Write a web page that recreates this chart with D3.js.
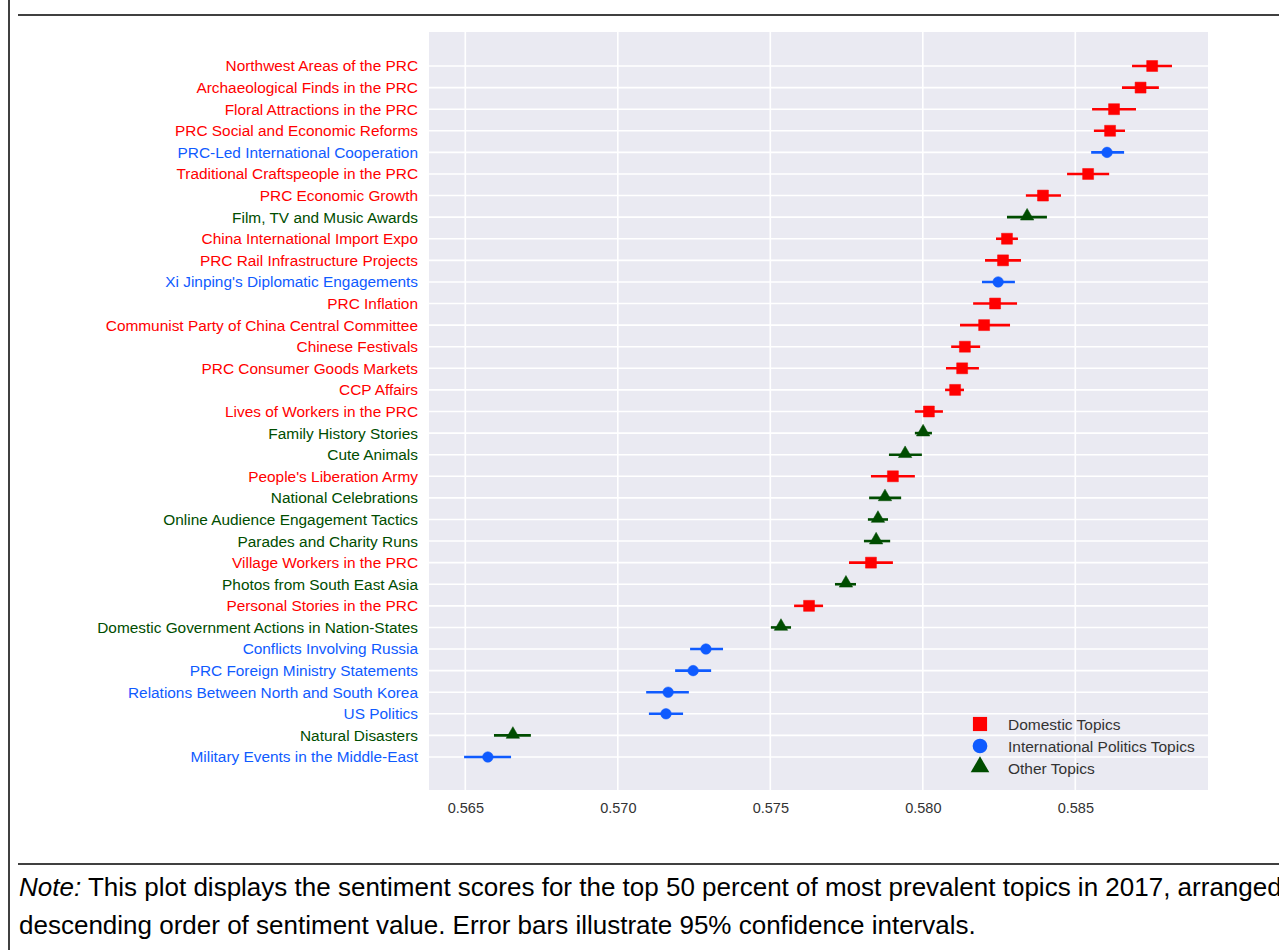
<!DOCTYPE html>
<html>
<head>
<meta charset="utf-8">
<script src="https://cdn.jsdelivr.net/npm/d3@7"></script>
<style>
  body { margin: 0; background: #fff; }
  svg { display: block; font-family: "Liberation Sans", Arial, sans-serif; }
</style>
</head>
<body>
<script>
// topics, top to bottom
const topics = [
  "Northwest Areas of the PRC", "Archaeological Finds in the PRC", "Floral Attractions in the PRC",
  "PRC Social and Economic Reforms", "PRC-Led International Cooperation", "Traditional Craftspeople in the PRC",
  "PRC Economic Growth", "Film, TV and Music Awards", "China International Import Expo",
  "PRC Rail Infrastructure Projects", "Xi Jinping's Diplomatic Engagements", "PRC Inflation",
  "Communist Party of China Central Committee", "Chinese Festivals", "PRC Consumer Goods Markets",
  "CCP Affairs", "Lives of Workers in the PRC", "Family History Stories", "Cute Animals",
  "People's Liberation Army", "National Celebrations", "Online Audience Engagement Tactics",
  "Parades and Charity Runs", "Village Workers in the PRC", "Photos from South East Asia",
  "Personal Stories in the PRC", "Domestic Government Actions in Nation-States",
  "Conflicts Involving Russia", "PRC Foreign Ministry Statements",
  "Relations Between North and South Korea", "US Politics", "Natural Disasters",
  "Military Events in the Middle-East"
];
// D = domestic, I = international politics, O = other
const groups = ["D","D","D","D","I","D","D","O","D","D","I","D","D","D","D","D","D","O","O",
  "D","O","O","O","D","O","D","O","I","I","I","I","O","I"];
const sentiment = [0.58752, 0.58714, 0.58627, 0.58614, 0.58604, 0.58542, 0.58394, 0.58342, 0.58276,
  0.58263, 0.58247, 0.58237, 0.58201, 0.58138, 0.58129, 0.58106, 0.58020, 0.58001, 0.57942,
  0.57902, 0.57876, 0.57853, 0.57847, 0.57830, 0.57748, 0.57627, 0.57535, 0.57289, 0.57247,
  0.57165, 0.57158, 0.56656, 0.56574];
const ciLow = [0.58686, 0.58653, 0.58555, 0.58561, 0.58552, 0.58473, 0.58338, 0.58276, 0.58240,
  0.58204, 0.58194, 0.58165, 0.58122, 0.58093, 0.58076, 0.58073, 0.57974, 0.57974, 0.57889,
  0.57830, 0.57824, 0.57820, 0.57807, 0.57758, 0.57712, 0.57578, 0.57502, 0.57237, 0.57188,
  0.57093, 0.57102, 0.56594, 0.56496];
const ciHigh = [0.58817, 0.58774, 0.58699, 0.58663, 0.58660, 0.58611, 0.58453, 0.58407, 0.58312,
  0.58322, 0.58302, 0.58309, 0.58286, 0.58188, 0.58184, 0.58135, 0.58066, 0.58030, 0.57997,
  0.57974, 0.57929, 0.57886, 0.57893, 0.57902, 0.57781, 0.57673, 0.57568, 0.57345, 0.57306,
  0.57233, 0.57214, 0.56715, 0.56650];
const xTicks = [0.565, 0.570, 0.575, 0.580, 0.585];
const legendLabels = ["Domestic Topics", "International Politics Topics", "Other Topics"];
const groupKeys = ["D", "I", "O"];

const colors = { D: "#ff0000", I: "#0f5bff", O: "#004d00" };
const symbols = { D: d3.symbolSquare, I: d3.symbolCircle, O: d3.symbolTriangle };

const width = 1279, height = 950;
const plot = { left: 429, right: 1208, top: 32, bottom: 790 };

const svg = d3.select("body").append("svg")
  .attr("width", width)
  .attr("height", height);

// frame lines
svg.append("line").attr("x1", 9).attr("x2", 9).attr("y1", 0).attr("y2", height)
  .attr("stroke", "#000").attr("stroke-width", 1.5);
svg.append("line").attr("x1", 18).attr("x2", width).attr("y1", 15).attr("y2", 15)
  .attr("stroke", "#000").attr("stroke-width", 1.5);
svg.append("line").attr("x1", 18).attr("x2", width).attr("y1", 864).attr("y2", 864)
  .attr("stroke", "#000").attr("stroke-width", 1.5);

const x = d3.scaleLinear()
  .domain([0.565 + (plot.left - 465.3) / 30500, 0.565 + (plot.right - 465.3) / 30500])
  .range([plot.left, plot.right]);

const y = d3.scalePoint()
  .domain(topics)
  .range([66, 757]);

svg.append("rect")
  .attr("x", plot.left).attr("y", plot.top)
  .attr("width", plot.right - plot.left).attr("height", plot.bottom - plot.top)
  .attr("fill", "#eaeaf2");

// grid
svg.append("g").selectAll("line").data(xTicks).join("line")
  .attr("x1", d => x(d)).attr("x2", d => x(d))
  .attr("y1", plot.top).attr("y2", plot.bottom)
  .attr("stroke", "#fff").attr("stroke-width", 1.6);
svg.append("g").selectAll("line").data(topics).join("line")
  .attr("x1", plot.left).attr("x2", plot.right)
  .attr("y1", d => y(d)).attr("y2", d => y(d))
  .attr("stroke", "#fff").attr("stroke-width", 1.6);

// x axis
const xAxis = d3.axisBottom(x).tickValues(xTicks).tickFormat(d3.format(".3f")).tickSize(0).tickPadding(13);
const gx = svg.append("g")
  .attr("transform", "translate(0," + plot.bottom + ")")
  .call(xAxis);
gx.select(".domain").remove();
gx.selectAll("text").attr("font-size", 14.5).attr("fill", "#333")
  .attr("font-family", "Liberation Sans, Arial, sans-serif");

// y labels
const yAxis = d3.axisLeft(y).tickSize(0).tickPadding(11);
const gy = svg.append("g")
  .attr("transform", "translate(" + plot.left + ",0)")
  .call(yAxis);
gy.select(".domain").remove();
gy.selectAll("text")
  .attr("font-size", 15.4)
  .attr("font-family", "Liberation Sans, Arial, sans-serif")
  .attr("fill", (d, i) => colors[groups[i]]);

// error bars
svg.append("g").selectAll("line").data(topics).join("line")
  .attr("x1", (d, i) => x(ciLow[i])).attr("x2", (d, i) => x(ciHigh[i]))
  .attr("y1", d => y(d)).attr("y2", d => y(d))
  .attr("stroke", (d, i) => colors[groups[i]])
  .attr("stroke-width", 2.6);

// markers
const markSize = { D: 120, I: 88, O: 78 };
svg.append("g").selectAll("path").data(topics).join("path")
  .attr("transform", (d, i) => "translate(" + x(sentiment[i]) + "," + (y(d) + (groups[i] === "O" ? -1 : 0)) + ")")
  .attr("d", (d, i) => d3.symbol().type(symbols[groups[i]]).size(markSize[groups[i]])())
  .attr("fill", (d, i) => colors[groups[i]])
  .attr("stroke", (d, i) => colors[groups[i]])
  .attr("stroke-opacity", 0.5)
  .attr("stroke-width", 1);

// legend
const legend = svg.append("g").attr("transform", "translate(980,724)");
const legendSize = { D: 200, I: 170, O: 150 };
legendLabels.forEach((lab, i) => {
  const k = groupKeys[i];
  const row = legend.append("g").attr("transform", "translate(0," + i * 22 + ")");
  row.append("path")
    .attr("d", d3.symbol().type(symbols[k]).size(legendSize[k])())
    .attr("transform", k === "O" ? "translate(0,-1)" : null)
    .attr("fill", colors[k]);
  row.append("text")
    .attr("x", 28).attr("y", 5.5)
    .attr("font-size", 15.5).attr("fill", "#333")
    .text(lab);
});

// note
const note = svg.append("text")
  .attr("x", 19).attr("y", 896)
  .attr("font-size", 26).attr("fill", "#000");
note.append("tspan").attr("font-style", "italic").text("Note:");
note.append("tspan").text(" This plot displays the sentiment scores for the top 50 percent of most prevalent topics in 2017, arranged in");
svg.append("text")
  .attr("x", 19).attr("y", 934)
  .attr("font-size", 26).attr("fill", "#000")
  .text("descending order of sentiment value. Error bars illustrate 95% confidence intervals.");
</script>
</body>
</html>
